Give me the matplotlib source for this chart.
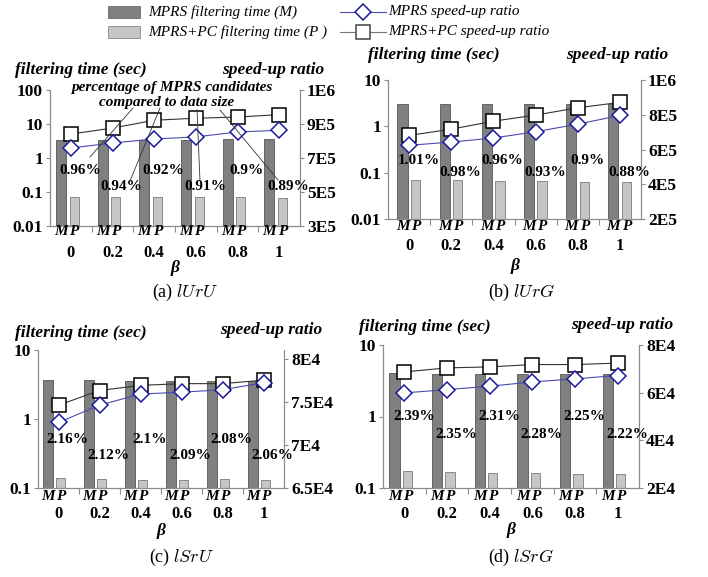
import numpy as np
import matplotlib
matplotlib.use('Agg')
import matplotlib.pyplot as plt
from matplotlib.patches import Rectangle
from matplotlib.lines import Line2D
from matplotlib.ticker import NullLocator
from matplotlib.transforms import blended_transform_factory

plt.rcParams['font.family'] = ['Liberation Serif', 'DejaVu Serif']
plt.rcParams['mathtext.fontset'] = 'cm'

# ---------------- data ----------------
beta_labels = ['0', '0.2', '0.4', '0.6', '0.8', '1']

# (a) lUrU
a_M = [3.4, 3.4, 3.4, 3.4, 3.6, 3.6]
a_P = [0.072, 0.072, 0.070, 0.070, 0.070, 0.066]
a_pc_speedup = [8.41e5, 8.76e5, 9.22e5, 9.34e5, 9.41e5, 9.55e5]
a_mprs_speedup = [7.59e5, 7.88e5, 8.12e5, 8.24e5, 8.53e5, 8.63e5]
a_pct = ['0.96%', '0.94%', '0.92%', '0.91%', '0.9%', '0.89%']

# (b) lUrG
b_M = [3.1, 3.1, 3.1, 3.1, 3.1, 3.1]
b_P = [0.070, 0.068, 0.065, 0.065, 0.062, 0.062]
b_pc_speedup = [6.81e5, 7.17e5, 7.63e5, 7.98e5, 8.40e5, 8.71e5]
b_mprs_speedup = [6.24e5, 6.43e5, 6.66e5, 7.02e5, 7.46e5, 7.96e5]
b_pct = ['1.01%', '0.98%', '0.96%', '0.93%', '0.9%', '0.88%']

# (c) lSrU
c_M = [3.7, 3.7, 3.6, 3.6, 3.6, 3.6]
c_P = [0.138, 0.134, 0.132, 0.132, 0.134, 0.132]
c_pc_speedup = [7.46e4, 7.63e4, 7.69e4, 7.71e4, 7.71e4, 7.75e4]
c_mprs_speedup = [7.26e4, 7.46e4, 7.59e4, 7.61e4, 7.64e4, 7.72e4]
c_pct = ['2.16%', '2.12%', '2.1%', '2.09%', '2.08%', '2.06%']

# (d) lSrG
d_M = [4.0, 3.9, 3.9, 3.9, 3.9, 3.9]
d_P = [0.173, 0.169, 0.160, 0.160, 0.155, 0.155]
d_pc_speedup = [6.87e4, 7.04e4, 7.08e4, 7.18e4, 7.18e4, 7.24e4]
d_mprs_speedup = [5.99e4, 6.13e4, 6.27e4, 6.45e4, 6.58e4, 6.72e4]
d_pct = ['2.39%', '2.35%', '2.31%', '2.28%', '2.25%', '2.22%']

# ---------------- style ----------------
W, H = 708, 577
DARK = '#808080'
LIGHT = '#c6c6c6'
SPINE = '#8c8c8c'
BLUE_LINE = '#4a4ab0'
BLUE_EDGE = '#1a1a9c'

fig = plt.figure(figsize=(W / 100, H / 100), dpi=100)


def fx(x):
    return x / W


def fy(y):
    return 1 - y / H


def rect(l, t, r, b):
    return [fx(l), fy(b), (r - l) / W, (b - t) / H]


def draw_panel(box, M, P, sp_mprs, sp_pc, pct, lims_l, lt, ltl, lims_r, rt, rtl,
               offs, pct_y, mp_y, num_y, beta_y, cap, cap_xy, titles):
    ax = fig.add_axes(rect(*box))
    n = len(beta_labels)
    x = np.arange(n)
    ax.set_yscale('log')
    ax.set_ylim(*lims_l)
    ax.set_xlim(-0.5, n - 0.5)
    lo = lims_l[0]
    ax.bar(x + offs[0], np.array(M) - lo, bottom=lo, width=0.24, color=DARK,
           edgecolor='#555555', linewidth=0.6, zorder=2)
    ax.bar(x + offs[1], np.array(P) - lo, bottom=lo, width=0.22, color=LIGHT,
           edgecolor='#7a7a7a', linewidth=0.6, zorder=2)
    ax.set_yticks(lt)
    ax.set_yticklabels(ltl)
    ax.yaxis.set_minor_locator(NullLocator())
    ax.set_xticks(np.arange(0.5, n - 0.5))
    ax.set_xticklabels([])
    ax.tick_params(axis='x', length=4, color=SPINE, width=0.8)
    ax.tick_params(axis='y', length=3, color=SPINE, width=0.8, pad=2)
    for lab in ax.get_yticklabels():
        lab.set_fontweight('bold')
        lab.set_fontsize(12.5)
    for s in ['top', 'right']:
        ax.spines[s].set_visible(False)
    for s in ['left', 'bottom']:
        ax.spines[s].set_color(SPINE)
        ax.spines[s].set_linewidth(0.9)

    ax2 = ax.twinx()
    ax2.set_ylim(*lims_r)
    ax2.set_yticks(rt)
    ax2.set_yticklabels(rtl)
    ax2.tick_params(axis='y', length=3, color=SPINE, width=0.8, pad=2)
    for lab in ax2.get_yticklabels():
        lab.set_fontweight('bold')
        lab.set_fontsize(12.5)
    for s in ['top', 'left', 'bottom']:
        ax2.spines[s].set_visible(False)
    ax2.spines['right'].set_color(SPINE)
    ax2.spines['right'].set_linewidth(0.9)

    ax2.plot(x, sp_pc, color='#333333', lw=0.8, marker='s', ms=10,
             mfc='white', mec='black', mew=1.1, zorder=3)
    ax2.plot(x, sp_mprs, color=BLUE_LINE, lw=0.8, marker='D', ms=8.5,
             mfc='white', mec=BLUE_EDGE, mew=1.1, zorder=4)

    tr = blended_transform_factory(ax2.transData, ax2.transAxes)
    for i, s in enumerate(pct):
        ax2.text(i + 0.22, pct_y[i % 2], s, transform=tr, ha='center',
                 va='center', fontsize=11, fontweight='bold', zorder=5)

    trf = blended_transform_factory(ax.transData, fig.transFigure)
    for i in range(n):
        ax.text(i + offs[0], fy(mp_y), 'M', transform=trf, ha='center', va='center',
                fontsize=11, fontweight='bold', fontstyle='italic')
        ax.text(i + offs[1], fy(mp_y), 'P', transform=trf, ha='center', va='center',
                fontsize=11, fontweight='bold', fontstyle='italic')
        ax.text(i, fy(num_y), beta_labels[i], transform=trf, ha='center', va='center',
                fontsize=12, fontweight='bold')
    cx = (box[0] + box[2]) / 2
    fig.text(fx(cx), fy(beta_y), 'β', ha='center', va='center', fontsize=12.5,
             fontweight='bold', fontstyle='italic')
    fig.text(fx(cap_xy[0]), fy(cap_xy[1]), cap, ha='center', va='center', fontsize=13)
    (t1x, t1y), (t2x, t2y) = titles
    fig.text(fx(t1x), fy(t1y), 'filtering time (sec)', ha='left', va='center',
             fontsize=12.5, fontweight='bold', fontstyle='italic')
    fig.text(fx(t2x), fy(t2y), 'speed-up ratio', ha='left', va='center',
             fontsize=12.5, fontweight='bold', fontstyle='italic')
    return ax, ax2


draw_panel((50, 90, 300, 226), a_M, a_P, a_mprs_speedup, a_pc_speedup, a_pct,
           (0.01, 100), [0.01, 0.1, 1, 10, 100], ['0.01', '0.1', '1', '10', '100'],
           (3e5, 1.1e6), [3e5, 5e5, 7e5, 9e5, 1.1e6], ['3E5', '5E5', '7E5', '9E5', '1E6'],
           (-0.24, 0.08), (0.41, 0.287), 232, 253, 268, r'(a) $lUrU$', (185, 292),
           ((15, 70), (222, 70)))

draw_panel((388, 80, 641, 219), b_M, b_P, b_mprs_speedup, b_pc_speedup, b_pct,
           (0.01, 10), [0.01, 0.1, 1, 10], ['0.01', '0.1', '1', '10'],
           (2e5, 1e6), [2e5, 4e5, 6e5, 8e5, 1e6], ['2E5', '4E5', '6E5', '8E5', '1E6'],
           (-0.155, 0.155), (0.424, 0.338), 227, 246, 266, r'(b) $lUrG$', (522, 292),
           ((368, 55), (566, 55)))

draw_panel((38, 350, 284, 488), c_M, c_P, c_mprs_speedup, c_pc_speedup, c_pct,
           (0.1, 10), [0.1, 1, 10], ['0.1', '1', '10'],
           (6.5e4, 8.1e4), [6.5e4, 7e4, 7.5e4, 8e4], ['6.5E4', '7E4', '7.5E4', '8E4'],
           (-0.26, 0.06), (0.348, 0.239), 496, 514, 531, r'(c) $lSrU$', (181, 557),
           ((15, 333), (220, 330)))

draw_panel((383, 345, 639, 488), d_M, d_P, d_mprs_speedup, d_pc_speedup, d_pct,
           (0.1, 10), [0.1, 1, 10], ['0.1', '1', '10'],
           (2e4, 8e4), [2e4, 4e4, 6e4, 8e4], ['2E4', '4E4', '6E4', '8E4'],
           (-0.23, 0.07), (0.497, 0.371), 496, 514, 530, r'(d) $lSrG$', (521, 557),
           ((359, 327), (571, 325)))

# annotation for panel (a)
fig.text(fx(172), fy(87), 'percentage of MPRS candidates', ha='center', va='center',
         fontsize=11, fontweight='bold', fontstyle='italic')
fig.text(fx(167), fy(102), 'compared to data size', ha='center', va='center',
         fontsize=11, fontweight='bold', fontstyle='italic')
for (x0, y0), (x1, y1) in [((133, 108), (90, 157)), ((160, 108), (130, 181)),
                           ((197, 110), (200, 181)), ((220, 110), (278, 180))]:
    fig.add_artist(Line2D([fx(x0), fx(x1)], [fy(y0), fy(y1)], transform=fig.transFigure,
                          color='#333333', lw=0.6))

# legend
fig.add_artist(Rectangle((fx(108), fy(18)), 32 / W, 12 / H, transform=fig.transFigure,
                         facecolor=DARK, edgecolor='#6a6a6a', lw=0.6))
fig.add_artist(Rectangle((fx(108), fy(38)), 32 / W, 12 / H, transform=fig.transFigure,
                         facecolor=LIGHT, edgecolor='#8a8a8a', lw=0.6))
fig.text(fx(148), fy(12), 'MPRS filtering time (M)', ha='left', va='center',
         fontsize=11, fontstyle='italic')
fig.text(fx(148), fy(32), 'MPRS+PC filtering time (P )', ha='left', va='center',
         fontsize=11, fontstyle='italic')
fig.add_artist(Line2D([fx(340), fx(386)], [fy(12), fy(12)], transform=fig.transFigure,
                      color=BLUE_LINE, lw=0.8))
fig.add_artist(Line2D([fx(363)], [fy(12)], transform=fig.transFigure, marker='D', ms=8.5,
                      mfc='white', mec=BLUE_EDGE, mew=1.1, lw=0))
fig.add_artist(Line2D([fx(340), fx(386)], [fy(32), fy(32)], transform=fig.transFigure,
                      color='#777777', lw=0.8))
fig.add_artist(Line2D([fx(363)], [fy(32)], transform=fig.transFigure, marker='s', ms=10,
                      mfc='white', mec='#444444', mew=1.1, lw=0))
fig.text(fx(388), fy(12), 'MPRS speed-up ratio', ha='left', va='center',
         fontsize=11, fontstyle='italic')
fig.text(fx(388), fy(32), 'MPRS+PC speed-up ratio', ha='left', va='center',
         fontsize=11, fontstyle='italic')

fig.savefig('out.png', dpi=100)
